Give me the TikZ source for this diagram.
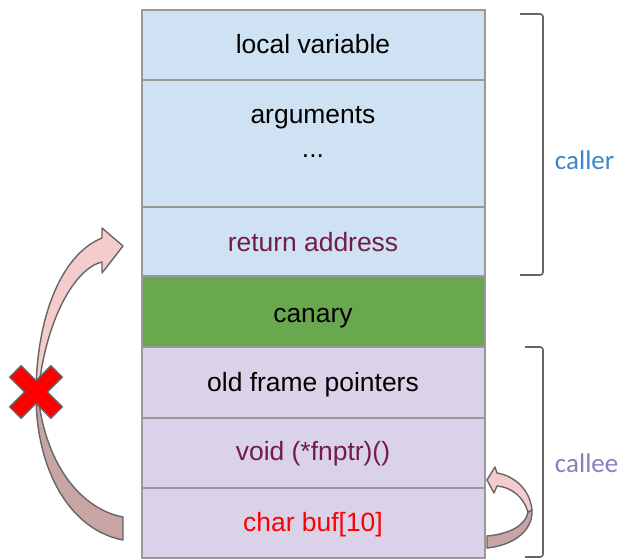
\documentclass[tikz,border=0pt]{standalone}
\usepackage{fontspec}
\setmainfont{Liberation Sans}
\newfontfamily\calibrifont{Carlito}

\definecolor{callerblue}{HTML}{CFE2F3}
\definecolor{canarygreen}{HTML}{6AA84F}
\definecolor{calleepurple}{HTML}{D9D2E9}
\definecolor{framegray}{HTML}{999999}
\definecolor{addrtext}{HTML}{741B47}
\definecolor{callertext}{HTML}{3D85C6}
\definecolor{calleetext}{HTML}{8E7CC3}
\definecolor{arrowlight}{HTML}{F4CCCC}
\definecolor{arrowdark}{HTML}{C8A4A4}
\definecolor{outlinegray}{HTML}{666666}

\tikzset{
    slot/.style={draw=framegray, line width=1pt},
    slottext/.style={anchor=base, font=\fontsize{18.8}{22}\selectfont},
    bracket/.style={draw=outlinegray, line width=1.2pt, rounded corners=2pt},
    sidelabel/.style={anchor=west, font=\calibrifont\fontsize{19.2}{22}\selectfont},
    bentarrow/.style={draw=outlinegray, line width=1pt, line join=round},
}

\begin{document}
\begin{tikzpicture}[x=0.025cm, y=-0.025cm]
    \useasboundingbox (0,0) rectangle (621,559);

    % Stack slots, top to bottom
    \fill[callerblue] (142,10) rectangle (485,276);
    \fill[canarygreen] (142,276) rectangle (485,347);
    \fill[calleepurple] (142,347) rectangle (485,558);
    \foreach \y in {80, 207, 276, 347, 418, 488} {
        \draw[slot] (142,\y) -- (485,\y);
    }
    \draw[slot] (142,10) rectangle (485,558);

    % Slot contents (placed on their baselines)
    \node[slottext] (local) at (313,54) {local variable};
    \node[slottext] (args) at (313,123) {arguments};
    \node[slottext] (dots) at (313,157) {...};
    \node[slottext, text=addrtext] (retaddr) at (313,251) {return address};
    \node[slottext] (canary) at (313,322) {canary};
    \node[slottext] (oldfp) at (313,391) {old frame pointers};
    \node[slottext, text=addrtext] (fnptr) at (313,460) {void (*fnptr)()};
    \node[slottext, text=red] (buf) at (313,531) {char buf[10]};

    % Brackets on the right
    \draw[bracket] (520,14) -- (543,14) -- (543,275) -- (520,275);
    \node[sidelabel, text=callertext] (caller) at (550,160) {caller};
    \draw[bracket] (525,347) -- (543,347) -- (543,557) -- (525,557);
    \node[sidelabel, text=calleetext] (callee) at (550,463) {callee};

    % Big bent arrow: buf -> return address (blocked)
    \filldraw[bentarrow, fill=arrowdark] (36,395) .. controls (36,470) and (70,530) .. (123,540)
        -- (123,517) .. controls (85,510) and (46,470) .. (38,395) -- cycle;
    \filldraw[bentarrow, fill=arrowlight] (36,395) .. controls (36,320) and (60,255) .. (102,238)
        -- (102,228) -- (123,246) -- (102,273) -- (102,262)
        .. controls (75,268) and (45,320) .. (38,395) -- cycle;

    % Red cross over the big arrow
    \begin{scope}[shift={(36,392)}, rotate=45]
        \filldraw[fill=red, draw=outlinegray, line width=1pt]
            (8,8) -- (8,29) -- (-8,29) -- (-8,8) -- (-29,8) -- (-29,-8) -- (-8,-8)
            -- (-8,-29) -- (8,-29) -- (8,-8) -- (29,-8) -- (29,8) -- cycle;
    \end{scope}

    % Small bent arrow: buf -> fnptr
    \filldraw[bentarrow, fill=arrowdark] (532,510) .. controls (533,530) and (515,545) .. (487,548)
        -- (487,536) .. controls (510,534) and (526,525) .. (528,512) -- cycle;
    \filldraw[bentarrow, fill=arrowlight] (497,473) .. controls (515,476) and (530,490) .. (532,510)
        -- (528,512) .. controls (524,498) and (512,487) .. (497,486)
        -- (494,493) -- (487,480) -- (495,467) -- cycle;
\end{tikzpicture}
\end{document}
